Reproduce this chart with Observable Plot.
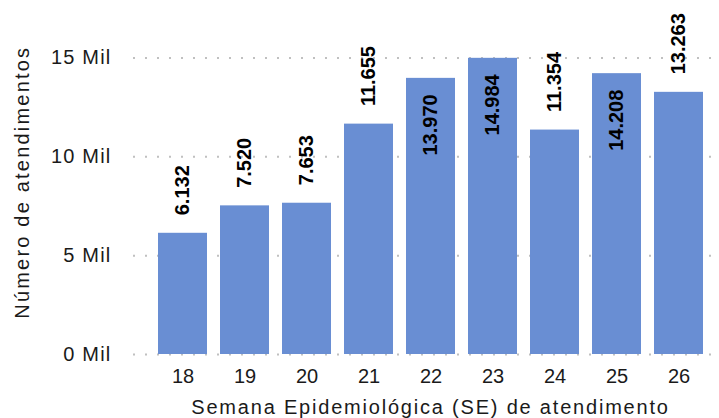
<!DOCTYPE html>
<html><head><meta charset="utf-8">
<script src="https://cdn.jsdelivr.net/npm/d3@7"></script>
<script src="https://cdn.jsdelivr.net/npm/@observablehq/plot@0.6"></script>
<style>
body{margin:0;background:#fff;}
svg{overflow:visible;}
</style>
</head><body><div id="chart"></div>
<script>
const semanas = ["18","19","20","21","22","23","24","25","26"];
const atendimentos = [6132, 7520, 7653, 11655, 13970, 14984, 11354, 14208, 13263];
const yTicks = [0, 5000, 10000, 15000];
const yTitle = "Número de atendimentos";
const xTitle = "Semana Epidemiológica (SE) de atendimento";

const data = semanas.map((s, i) => ({semana: s, valor: atendimentos[i]}));
const fmt = v => d3.format(",")(v).replace(/,/g, ".");
const inside = d => d.valor > 13500;

const chart = Plot.plot({
  width: 719, height: 418,
  marginLeft: 133, marginRight: 6, marginTop: 57.5, marginBottom: 64,
  style: {fontFamily: "Liberation Sans, Arial, sans-serif", fontSize: "20px", color: "#1a1a1a", background: "#fff"},
  x: {domain: semanas, range: [158, 703], paddingInner: 0.21, paddingOuter: 0, label: null},
  y: {domain: [0, 15000], label: null},
  marks: [
    Plot.gridY(yTicks, {stroke: "#c0c0c0", strokeOpacity: 1, strokeDasharray: "2,10", strokeWidth: 2}),
    Plot.axisY(yTicks, {tickSize: 0, tickPadding: 22, tickFormat: d => (d/1000) + " Mil", fontSize: 20, label: null}),
    Plot.axisX({tickSize: 0, tickPadding: 14, fontSize: 20, label: null}),
    Plot.barY(data, {x: "semana", y: "valor", fill: "#698ed3"}),
    Plot.text(data.filter(d => !inside(d)), {x: "semana", y: "valor", text: d => fmt(d.valor), rotate: -90, textAnchor: "start", lineAnchor: "middle", dy: -18, fontWeight: "bold", fontSize: 20, fill: "#000"}),
    Plot.text(data.filter(inside), {x: "semana", y: "valor", text: d => fmt(d.valor), rotate: -90, textAnchor: "end", lineAnchor: "middle", dy: 16, fontWeight: "bold", fontSize: 20, fill: "#000"}),
    Plot.text([yTitle], {frameAnchor: "left", rotate: -90, dx: -111, dy: -24, fontSize: 20, fill: "#1a1a1a", lineAnchor: "middle", textAnchor: "middle"}),
    Plot.text([xTitle], {frameAnchor: "bottom", dx: 7, dy: 53, fontSize: 20, fill: "#1a1a1a", lineAnchor: "middle", textAnchor: "middle"})
  ]
});
document.getElementById("chart").appendChild(chart);
const svg = d3.select(chart);
svg.selectAll("text").filter(function(){return this.textContent === xTitle;}).attr("letter-spacing", "1.8px");
svg.selectAll("text").filter(function(){return this.textContent === yTitle;}).attr("letter-spacing", "2.2px");
svg.selectAll('g[aria-label="y-axis tick label"] text').attr("letter-spacing", "1.2px");
</script>
</body></html>
